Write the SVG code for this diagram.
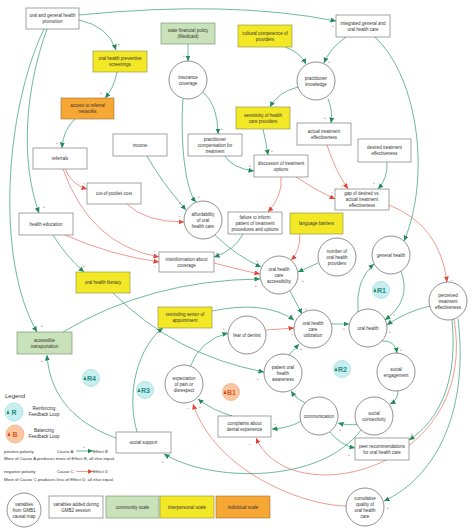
<svg xmlns="http://www.w3.org/2000/svg" width="474" height="531" viewBox="0 0 474 531">
<style>
text{font-family:"Liberation Sans",Arial,sans-serif;font-size:4.5px;fill:#333;text-anchor:middle}
.box{fill:#fff;stroke:#666;stroke-width:0.6}
.yel{fill:#f3e826;stroke:#8a8a40;stroke-width:0.6}
.grn{fill:#c9e2b9;stroke:#6a8a6a;stroke-width:0.6}
.org{fill:#f7a733;stroke:#9a7040;stroke-width:0.6}
.cir{fill:#fff;stroke:#444;stroke-width:0.6}
.p{fill:none;stroke:#2f9a78;stroke-width:0.7;marker-end:url(#ag)}
.n{fill:none;stroke:#e0574a;stroke-width:0.6;marker-end:url(#ar)}
.sg{font-size:4px;fill:#b04a40}
.lt{text-anchor:start;font-size:4.3px}
.rl{fill:#c9eef0;stroke:#8fd6da;stroke-width:0.6}
.bl{fill:#fbc7a0;stroke:#f0a070;stroke-width:0.6}
.rt{font-size:7px;font-weight:bold;fill:#1e8c84;text-anchor:start}
.bt{font-size:7px;font-weight:bold;fill:#e0562a;text-anchor:start}
</style>
<defs>
<marker id="ag" markerUnits="userSpaceOnUse" markerWidth="7" markerHeight="6" refX="5.5" refY="2.5" orient="auto"><path d="M0,0 L5.5,2.5 L0,5 z" fill="#1f8a5a"/></marker>
<marker id="ar" markerUnits="userSpaceOnUse" markerWidth="7" markerHeight="6" refX="5.5" refY="2.5" orient="auto"><path d="M0,0 L5.5,2.5 L0,5 z" fill="#e0443a"/></marker>
</defs>
<rect width="474" height="531" fill="#fff"/>
<g id="connectors">
<path class="p" d="M79,20 Q108,26 116,50"/>
<path class="p" d="M117,72 Q114,88 105,98"/>
<path class="p" d="M75,119 Q63,130 62,148"/>
<path class="p" d="M79,15 Q230,0 336,21"/>
<path class="p" d="M47,29 C25,90 20,160 39,213"/>
<path class="p" d="M44,29 C5,110 -5,260 37,332"/>
<path class="p" d="M188,44 L188,61"/>
<path class="p" d="M203,92 Q218,105 218,134"/>
<path class="p" d="M183,99 C180,140 185,190 196,202"/>
<path class="p" d="M285,47 Q300,52 306,64"/>
<path class="p" d="M298,87 Q278,92 270,107"/>
<path class="p" d="M346,37 Q330,48 324,63"/>
<path class="p" d="M328,99 Q333,110 331,123"/>
<path class="p" d="M263,129 Q266,142 268,155"/>
<path class="p" d="M225,156 Q232,168 254,171"/>
<path class="p" d="M147,156 Q160,180 186,210"/>
<path class="n" d="M65,169 Q72,185 87,189"/>
<path class="n" d="M63,169 Q90,245 159,257"/>
<path class="n" d="M65,235 Q110,255 159,262"/>
<path class="n" d="M127,204 Q145,222 184,222"/>
<path class="p" d="M53,235 Q65,255 84,272"/>
<path class="n" d="M281,177 Q283,195 268,212"/>
<path class="n" d="M296,177 Q315,190 335,199"/>
<path class="n" d="M327,145 Q335,170 348,189"/>
<path class="p" d="M387,162 Q388,178 378,189"/>
<path class="p" d="M375,37 C420,80 430,180 404,241"/>
<path class="n" d="M389,205 Q440,225 447,282"/>
<path class="p" d="M215,235 Q235,255 261,267"/>
<path class="p" d="M243,234 Q235,250 214,257"/>
<path class="n" d="M214,263 Q240,270 260,274"/>
<path class="n" d="M300,234 Q300,252 291,260"/>
<path class="p" d="M318,263 L298,272"/>
<path class="p" d="M63,332 Q150,280 260,279"/>
<path class="p" d="M113,293 Q175,355 264,372"/>
<path class="p" d="M212,311 Q265,300 294,320"/>
<path class="n" d="M266,330 L294,328"/>
<path class="p" d="M290,291 L302,314"/>
<path class="p" d="M289,355 L299,344"/>
<path class="p" d="M190,367 Q200,340 228,333"/>
<path class="p" d="M137,432 C125,390 140,345 163,328"/>
<path class="p" d="M116,438 C80,425 50,400 47,355"/>
<path class="p" d="M361,430 C320,485 210,482 164,454"/>
<path class="p" d="M301,421 Q290,428 272,429"/>
<path class="p" d="M232,416 Q212,410 198,399"/>
<path class="n" d="M346,506 C300,505 215,470 193,404"/>
<path class="n" d="M454,319 C480,470 290,515 256,438"/>
<path class="p" d="M458,319 C470,420 430,480 384,501"/>
<path class="p" d="M452,320 C458,380 440,420 409,440"/>
<path class="p" d="M430,306 Q405,312 387,325"/>
<path class="p" d="M358,312 Q355,280 374,264"/>
<path class="p" d="M401,271 Q412,300 385,320"/>
<path class="p" d="M331,324 L349,324"/>
<path class="p" d="M382,341 Q395,340 397,353"/>
<path class="p" d="M398,391 Q398,400 390,404"/>
<path class="p" d="M358,424 Q350,426 338,423"/>
<path class="p" d="M330,432 Q340,445 355,448"/>
<path class="p" d="M305,403 Q297,400 291,391"/>
<g id="signs">
<text class="sg" x="119" y="45">+</text>
<text class="sg" x="101" y="94">+</text>
<text class="sg" x="57" y="144">+</text>
<text class="sg" x="333" y="27">+</text>
<text class="sg" x="44" y="208">+</text>
<text class="sg" x="42" y="327">+</text>
<text class="sg" x="184" y="57">+</text>
<text class="sg" x="222" y="130">+</text>
<text class="sg" x="199" y="198">+</text>
<text class="sg" x="302" y="63">+</text>
<text class="sg" x="273" y="105">+</text>
<text class="sg" x="329" y="63">+</text>
<text class="sg" x="325" y="119">+</text>
<text class="sg" x="272" y="152">+</text>
<text class="sg" x="250" y="167">+</text>
<text class="sg" x="180" y="204">+</text>
<text class="sg" x="84" y="185">−</text>
<text class="sg" x="155" y="253">−</text>
<text class="sg" x="155" y="268">−</text>
<text class="sg" x="180" y="218">−</text>
<text class="sg" x="84" y="267">+</text>
<text class="sg" x="272" y="212">−</text>
<text class="sg" x="332" y="194">−</text>
<text class="sg" x="342" y="188">−</text>
<text class="sg" x="374" y="184">+</text>
<text class="sg" x="407" y="238">+</text>
<text class="sg" x="452" y="282">−</text>
<text class="sg" x="257" y="262">+</text>
<text class="sg" x="217" y="254">+</text>
<text class="sg" x="256" y="282">−</text>
<text class="sg" x="296" y="259">−</text>
<text class="sg" x="303" y="282">+</text>
<text class="sg" x="256" y="287">+</text>
<text class="sg" x="258" y="380">+</text>
<text class="sg" x="292" y="316">+</text>
<text class="sg" x="292" y="336">−</text>
<text class="sg" x="306" y="310">+</text>
<text class="sg" x="301" y="350">+</text>
<text class="sg" x="224" y="330">+</text>
<text class="sg" x="158" y="333">+</text>
<text class="sg" x="42" y="362">+</text>
<text class="sg" x="163" y="463">+</text>
<text class="sg" x="275" y="425">+</text>
<text class="sg" x="200" y="408">+</text>
<text class="sg" x="188" y="410">−</text>
<text class="sg" x="250" y="446">−</text>
<text class="sg" x="388" y="509">+</text>
<text class="sg" x="412" y="435">+</text>
<text class="sg" x="390" y="333">+</text>
<text class="sg" x="370" y="270">+</text>
<text class="sg" x="394" y="316">+</text>
<text class="sg" x="344" y="330">+</text>
<text class="sg" x="401" y="351">+</text>
<text class="sg" x="395" y="404">+</text>
<text class="sg" x="340" y="431">+</text>
<text class="sg" x="349" y="456">+</text>
<text class="sg" x="296" y="397">+</text>
</g>
</g>
<g id="promo"><rect class="box" x="26" y="8" width="53" height="21"/><text x="52.5" y="17.1">oral and general health</text><text x="52.5" y="23.1">promotion</text></g>
<g id="screenings"><rect class="yel" x="93" y="51" width="54" height="21"/><text x="120" y="60.1">oral health preventive</text><text x="120" y="66.1">screenings</text></g>
<g id="referralnet"><rect class="org" x="61" y="98" width="53" height="21"/><text x="87.5" y="107.1">access to referral</text><text x="87.5" y="113.1">networks</text></g>
<g id="state"><rect class="grn" x="161" y="23" width="54" height="21"/><text x="188" y="32.1">state financial policy</text><text x="188" y="38.1">(Medicaid)</text></g>
<g id="cultural"><rect class="yel" x="238" y="25" width="54" height="22"/><text x="265" y="34.6">cultural competence of</text><text x="265" y="40.6">providers</text></g>
<g id="integrated"><rect class="box" x="336" y="15" width="54" height="22"/><text x="363" y="24.6">integrated general and</text><text x="363" y="30.6">oral health care</text></g>
<g id="insurance"><circle class="cir" cx="188" cy="80" r="19"/><text x="188" y="78.6">insurance</text><text x="188" y="84.6">coverage</text></g>
<g id="knowledge"><circle class="cir" cx="316" cy="81" r="19"/><text x="316" y="79.6">practitioner</text><text x="316" y="85.6">knowledge</text></g>
<g id="sensitivity"><rect class="yel" x="236" y="107" width="54" height="22"/><text x="263" y="116.6">sensitivity of health</text><text x="263" y="122.6">care providers</text></g>
<g id="comp"><rect class="box" x="188" y="134" width="54" height="22"/><text x="215" y="140.6">practitioner</text><text x="215" y="146.6">compensation for</text><text x="215" y="152.6">treatment</text></g>
<g id="income"><rect class="box" x="113" y="134" width="54" height="22"/><text x="140" y="146.6">income</text></g>
<g id="actual"><rect class="box" x="297" y="123" width="54" height="22"/><text x="324" y="132.6">actual treatment</text><text x="324" y="138.6">effectiveness</text></g>
<g id="desired"><rect class="box" x="358" y="139" width="53" height="23"/><text x="384.5" y="149.1">desired treatment</text><text x="384.5" y="155.1">effectiveness</text></g>
<g id="referrals"><rect class="box" x="33" y="148" width="54" height="21"/><text x="60" y="160.1">referrals</text></g>
<g id="discussion"><rect class="box" x="254" y="155" width="54" height="22"/><text x="281" y="164.6">discussion of treatment</text><text x="281" y="170.6">options</text></g>
<g id="outofpocket"><rect class="box" x="87" y="183" width="54" height="21"/><text x="114" y="195.1">out-of-pocket cost</text></g>
<g id="gap"><rect class="box" x="335" y="189" width="54" height="21"/><text x="362" y="195.1">gap of desired vs.</text><text x="362" y="201.1">actual treatment</text><text x="362" y="207.1">effectiveness</text></g>
<g id="affordability"><circle class="cir" cx="203" cy="220" r="19"/><text x="203" y="215.6">affordability</text><text x="203" y="221.6">of oral</text><text x="203" y="227.6">health care</text></g>
<g id="failure"><rect class="box" x="228" y="212" width="54" height="22"/><text x="255" y="218.6">failure to inform</text><text x="255" y="224.6">patient of treatment</text><text x="255" y="230.6">procedures and options</text></g>
<g id="language"><rect class="yel" x="290" y="213" width="53" height="21"/><text x="316.5" y="225.1">language barriers</text></g>
<g id="healthed"><rect class="box" x="19" y="213" width="54" height="22"/><text x="46" y="225.6">health education</text></g>
<g id="misinfo"><rect class="box" x="159" y="252" width="55" height="20"/><text x="186.5" y="260.6">misinformation about</text><text x="186.5" y="266.6">coverage</text></g>
<g id="accessibility"><circle class="cir" cx="279" cy="275" r="19"/><text x="279" y="270.6">oral health</text><text x="279" y="276.6">care</text><text x="279" y="282.6">accessibility</text></g>
<g id="number"><circle class="cir" cx="337" cy="257" r="19"/><text x="337" y="252.6">number of</text><text x="337" y="258.6">oral health</text><text x="337" y="264.6">providers</text></g>
<g id="general"><circle class="cir" cx="391" cy="255" r="19"/><text x="391" y="256.6">general health</text></g>
<g id="literacy"><rect class="yel" x="76" y="272" width="54" height="21"/><text x="103" y="284.1">oral health literacy</text></g>
<g id="reminding"><rect class="yel" x="158" y="307" width="54" height="21"/><text x="185" y="316.1">reminding senior of</text><text x="185" y="322.1">appointment</text></g>
<g id="fear"><circle class="cir" cx="247" cy="335" r="19"/><text x="247" y="336.6">fear of dentist</text></g>
<g id="utilization"><circle class="cir" cx="313" cy="329" r="19"/><text x="313" y="324.6">oral health</text><text x="313" y="330.6">care</text><text x="313" y="336.6">utilization</text></g>
<g id="oralhealth"><circle class="cir" cx="368" cy="328" r="19"/><text x="368" y="329.6">oral health</text></g>
<g id="perceived"><circle class="cir" cx="448" cy="301" r="19"/><text x="448" y="296.6">perceived</text><text x="448" y="302.6">treatment</text><text x="448" y="308.6">effectiveness</text></g>
<g id="transport"><rect class="grn" x="17" y="332" width="55" height="22"/><text x="44.5" y="341.6">accessible</text><text x="44.5" y="347.6">transportation</text></g>
<g id="awareness"><circle class="cir" cx="283" cy="373" r="19"/><text x="283" y="368.6">patient oral</text><text x="283" y="374.6">health</text><text x="283" y="380.6">awareness</text></g>
<g id="engagement"><circle class="cir" cx="396" cy="372" r="19"/><text x="396" y="370.6">social</text><text x="396" y="376.6">engagement</text></g>
<g id="expectation"><circle class="cir" cx="184" cy="384" r="19"/><text x="184" y="379.6">expectation</text><text x="184" y="385.6">of pain or</text><text x="184" y="391.6">disrespect</text></g>
<g id="communication"><circle class="cir" cx="319" cy="416" r="19"/><text x="319" y="417.6">communication</text></g>
<g id="connectivity"><circle class="cir" cx="374" cy="416" r="19"/><text x="374" y="414.6">social</text><text x="374" y="420.6">connectivity</text></g>
<g id="complaints"><rect class="box" x="218" y="416" width="53" height="21"/><text x="244.5" y="425.1">complaints about</text><text x="244.5" y="431.1">dental experience</text></g>
<g id="socialsupport"><rect class="box" x="116" y="432" width="55" height="21"/><text x="143.5" y="444.1">social support</text></g>
<g id="peer"><rect class="box" x="355" y="438" width="54" height="22"/><text x="382" y="447.6">peer recommendations</text><text x="382" y="453.6">for oral health care</text></g>
<g id="cumulative"><circle class="cir" cx="365" cy="507" r="19"/><text x="365" y="499.6">cumulative</text><text x="365" y="505.6">quality of</text><text x="365" y="511.6">oral health</text><text x="365" y="517.6">care</text></g>
<g id="loops">
<g id="R1"><circle class="rl" cx="381" cy="290" r="8.5"/><path d="M373.5,292 L375,288 L376.5,292 z" fill="#1f8a5a"/><text class="rt" x="377" y="292.5">R1</text></g>
<g id="R2"><circle class="rl" cx="342" cy="369" r="8.5"/><path d="M334.5,371 L336,367 L337.5,371 z" fill="#1f8a5a"/><text class="rt" x="338" y="371.5">R2</text></g>
<g id="R3"><circle class="rl" cx="145" cy="390" r="8.5"/><path d="M137.5,392 L139,388 L140.5,392 z" fill="#1f8a5a"/><text class="rt" x="141" y="392.5">R3</text></g>
<g id="R4"><circle class="rl" cx="91" cy="378" r="8.5"/><path d="M83.5,380 L85,376 L86.5,380 z" fill="#1f8a5a"/><text class="rt" x="87" y="380.5">R4</text></g>
<g id="B1"><circle class="bl" cx="231" cy="392" r="8.5"/><path d="M223.5,394 L225,390 L226.5,394 z" fill="#d8402a"/><text class="bt" x="227" y="394.5">B1</text></g>
</g>
<g id="legend">
<text x="5" y="398" style="font-size:6px;text-anchor:start">Legend</text>
<circle class="rl" cx="14" cy="412" r="9"/><path d="M6.5,414 L8,410 L9.5,414 z" fill="#1f8a5a"/><text class="rt" x="11.5" y="414.5">R</text>
<text x="44" y="409.5">Reinforcing</text><text x="44" y="415.5">Feedback Loop</text>
<circle class="bl" cx="15" cy="434" r="9"/><path d="M7.5,436 L9,432 L10.5,436 z" fill="#d8402a"/><text class="bt" x="12.5" y="436.5">B</text>
<text x="44" y="431.5">Balancing</text><text x="44" y="437.5">Feedback Loop</text>
<text class="lt" x="4" y="452.5">positive polarity</text>
<text class="lt" x="57" y="452.5">Cause A</text>
<path class="p" d="M76,451 L93,451"/>
<text class="sg" x="84" y="448">+</text>
<text class="lt" x="93" y="452.5">Effect B</text>
<text class="lt" x="4" y="459.5">More of Cause A produces more of Effect B, all else equal.</text>
<text class="lt" x="4" y="473">negative polarity</text>
<text class="lt" x="57" y="473">Cause C</text>
<path class="n" d="M76,471.5 L93,471.5"/>
<text class="lt" x="93" y="473">Effect D</text>
<text class="lt" x="4" y="480.5">More of Cause C produces less of Effect D, all else equal.</text>
<circle class="cir" cx="24" cy="510" r="17"/><text x="24" y="505.6">variables</text><text x="24" y="511.6">from GMB1</text><text x="24" y="517.6">causal map</text>
<rect class="box" x="49" y="496" width="54" height="22"/><text x="76" y="505.6">variables added during</text><text x="76" y="511.6">GMB2 session</text>
<rect class="grn" x="106" y="496" width="53" height="22"/><text x="132.5" y="508.6">community scale</text>
<rect class="yel" x="160" y="496" width="54" height="22"/><text x="187" y="508.6">interpersonal scale</text>
<rect class="org" x="216" y="496" width="54" height="22"/><text x="243" y="508.6">individual scale</text>
</g>
</svg>
